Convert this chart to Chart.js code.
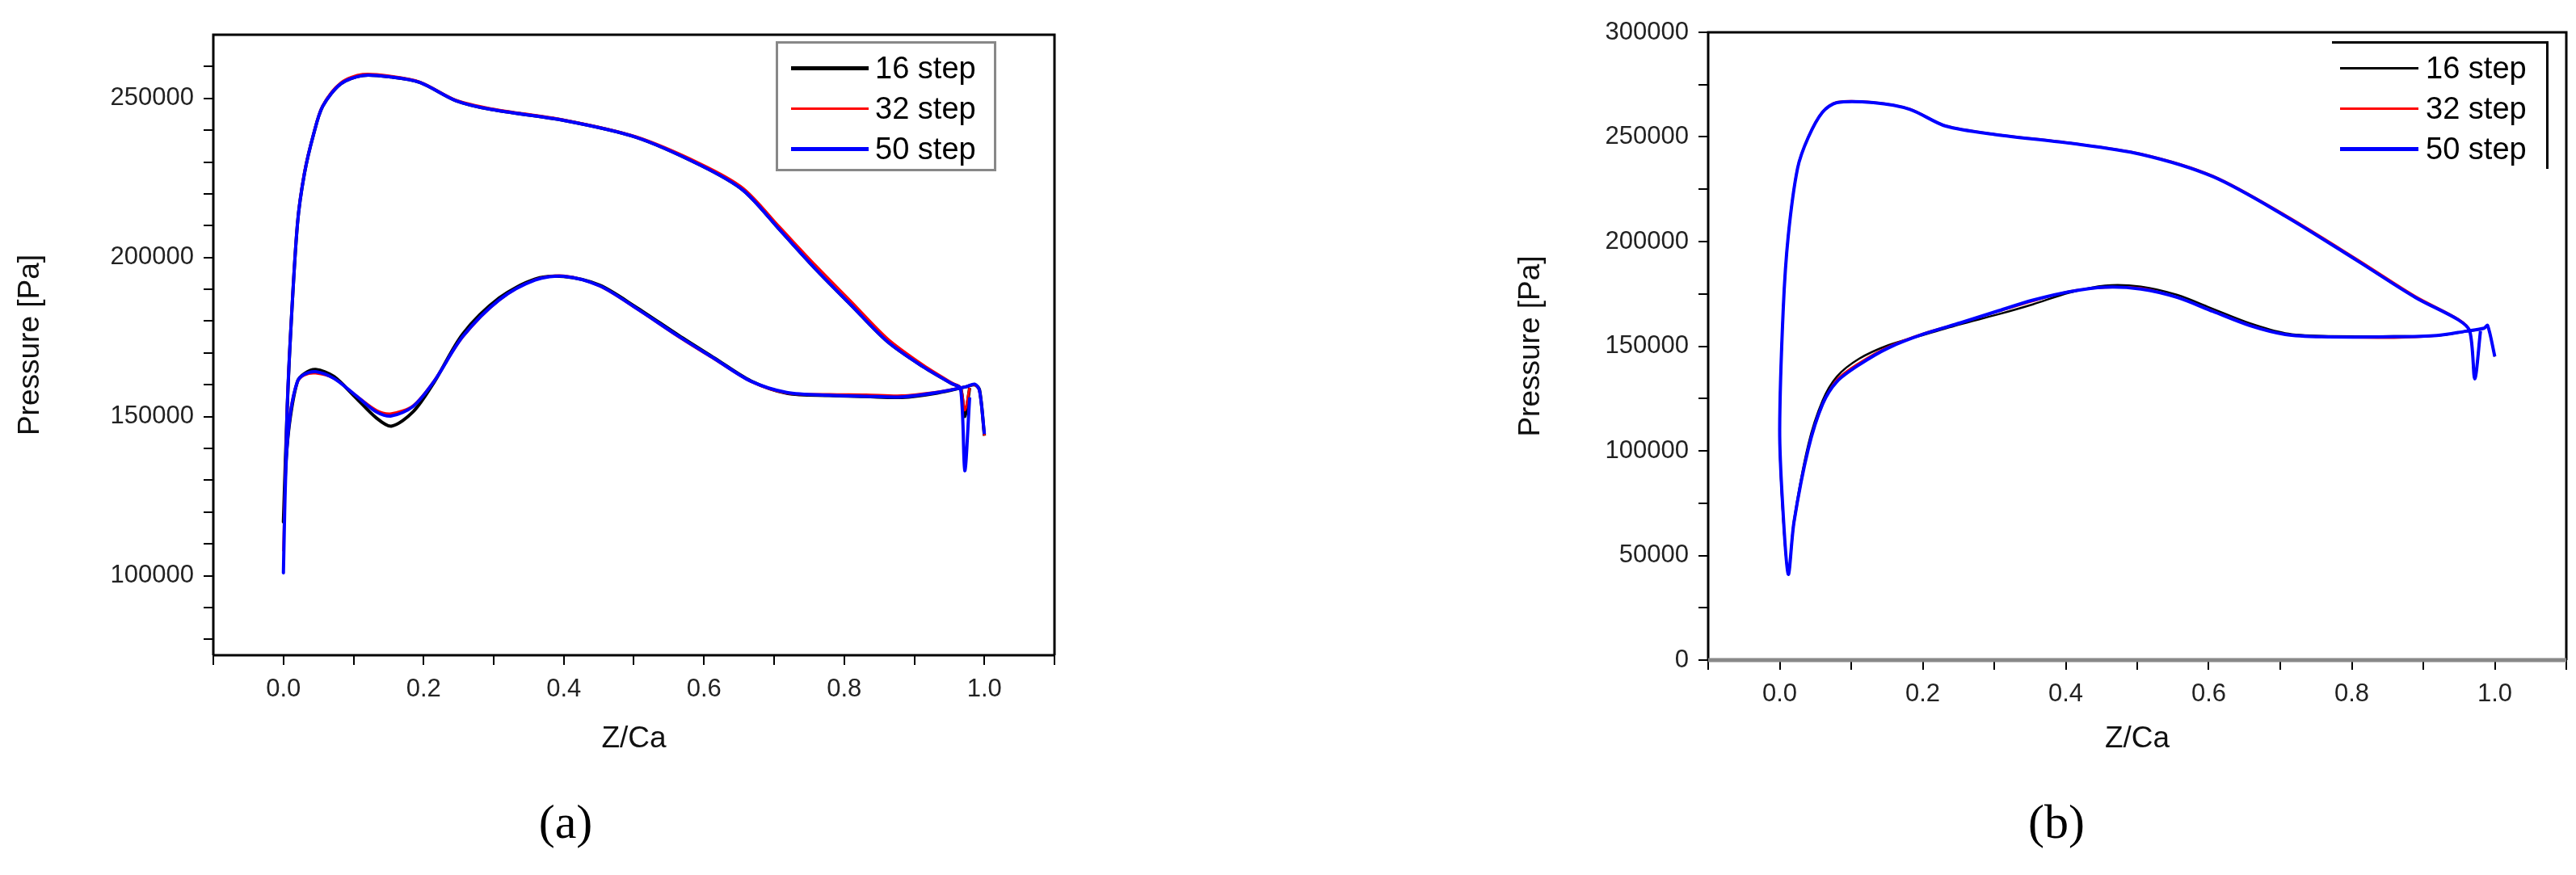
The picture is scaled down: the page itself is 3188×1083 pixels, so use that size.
<!DOCTYPE html>
<html>
<head>
<meta charset="utf-8">
<script src="https://cdn.jsdelivr.net/npm/chart.js@4.4.0/dist/chart.umd.min.js"></script>
<style>
  body { margin: 0; background: #fff; width: 3188px; height: 1083px; position: relative; overflow: hidden; font-family: "Liberation Sans", Arial, sans-serif; }
  .wrap { position: absolute; top: 0; }
  .panel-label { position: absolute; font-family: "Liberation Serif", serif; font-size: 60px; transform: translateX(-50%); }
  .legend { position: absolute; font-size: 38px; color: #000; }
  .legend .row { position: absolute; height: 44px; line-height: 44px; white-space: nowrap; }
  .legend .sw { position: absolute; top: 22px; }
  .legend .tx { position: absolute; }
</style>
</head>
<body>
<div class="wrap" style="left:0;width:1320px;height:945px"><canvas id="ca"></canvas></div>
<div class="wrap" style="left:1800px;width:1388px;height:945px"><canvas id="cb"></canvas></div>
<div class="panel-label" style="left:700px;top:983px">(a)</div>
<div class="panel-label" style="left:2545px;top:983px">(b)</div>
<div id="legA" class="legend" style="left:960px;top:51px;width:267px;height:155px;border:3px solid #888;"></div>
<div id="legB" class="legend" style="left:2886px;top:51px;width:265px;height:155px;border-top:3px solid #000;border-right:3px solid #000;"></div>
<script>
const seriesNames = ['16 step', '32 step', '50 step'];
const seriesColors = ['#000000', '#ff0000', '#0000ff'];

// panel (a): closed loop, end -> lower branch back to x=0 -> upper branch
const xA = [1.0, 0.993, 0.986, 0.974, 0.933, 0.882, 0.831, 0.779, 0.718, 0.667, 0.615, 0.564, 0.503, 0.451, 0.4, 0.359, 0.308, 0.256, 0.215, 0.185, 0.154, 0.133, 0.103, 0.072, 0.046, 0.03, 0.02, 0.01, 0.004, 0.0,
  0.005, 0.01, 0.02, 0.03, 0.043, 0.056, 0.082, 0.113, 0.154, 0.195, 0.246, 0.297, 0.4, 0.503, 0.595, 0.656, 0.708, 0.759, 0.81, 0.862, 0.913, 0.954, 0.966, 0.972, 0.979];
const a16 = [144000, 158500, 160000, 159400, 157400, 156000, 156300, 156600, 157300, 161200, 168400, 175500, 184400, 191300, 194000, 193200, 187300, 176000, 160800, 151500, 147000, 149500, 156000, 162600, 164800, 163500, 161000, 150000, 137000, 117000,
  150000, 175000, 210500, 226400, 238700, 247500, 254600, 257200, 256700, 255000, 249300, 246500, 243100, 237800, 229000, 221100, 208700, 196400, 185000, 173500, 165600, 160300, 159000, 150000, 159000];
const a32 = [144000, 158000, 160000, 159400, 157800, 156600, 156900, 157000, 157400, 161000, 168000, 175000, 184000, 191000, 194300, 193000, 186600, 175000, 161300, 153500, 151000, 152000, 156800, 162000, 163600, 163000, 160800, 152000, 139000, 108000,
  152000, 176000, 211000, 227000, 239000, 247800, 255000, 257600, 257000, 255200, 249500, 246800, 243300, 238000, 229500, 221800, 209600, 197600, 186200, 174500, 166200, 160600, 159200, 152000, 159000];
const a50 = [144500, 158200, 160200, 159400, 157600, 156200, 156400, 156700, 157600, 161100, 168200, 175200, 184100, 191100, 194100, 192900, 186700, 175200, 161100, 153200, 150200, 151400, 156700, 162000, 164100, 163300, 161000, 151000, 136000, 101000,
  150000, 175000, 210500, 226400, 238700, 247500, 254600, 257200, 256700, 255000, 249300, 246500, 243100, 237800, 229000, 221100, 208700, 196400, 185000, 173500, 165600, 160300, 158900, 133000, 156000];

// panel (b)
const xB = [1.0, 0.99, 0.985, 0.96, 0.919, 0.859, 0.758, 0.707, 0.657, 0.606, 0.556, 0.505, 0.455, 0.404, 0.354, 0.303, 0.253, 0.202, 0.152, 0.111, 0.08, 0.06, 0.04, 0.02, 0.012, 0.004, 0.0,
  0.005, 0.012, 0.025, 0.04, 0.06, 0.08, 0.131, 0.182, 0.232, 0.303, 0.404, 0.505, 0.606, 0.707, 0.808, 0.889, 0.949, 0.965, 0.972, 0.98];
const b16 = [145100, 159900, 158600, 157000, 155000, 154800, 154900, 156200, 161000, 167800, 174500, 178500, 179000, 175500, 170000, 165000, 160500, 155500, 150500, 144000, 135500, 124000, 103000, 67000, 42000, 72000, 110000,
  168000, 202800, 235000, 249800, 261900, 266400, 266400, 263200, 255200, 251100, 247100, 241700, 231000, 212200, 190800, 173300, 162600, 157200, 134400, 157200];
const b32 = [145100, 159900, 158600, 157200, 155000, 154000, 154400, 155600, 160200, 166800, 173300, 177800, 178000, 176200, 171500, 166300, 161200, 156200, 149800, 142000, 134000, 122000, 101000, 65000, 41000, 73000, 110000,
  168500, 203300, 235500, 250200, 262200, 266700, 266600, 263400, 255400, 251300, 247300, 242000, 231400, 212700, 191500, 173900, 163000, 157400, 134800, 157200];
const b50 = [145100, 159900, 158600, 157200, 155100, 154500, 154500, 155600, 159900, 166600, 173300, 177300, 178200, 176000, 172000, 166600, 161200, 155900, 149200, 141100, 133100, 122300, 100900, 66000, 41000, 75000, 110000,
  168000, 202800, 235000, 249800, 261900, 266400, 266400, 263200, 255200, 251100, 247100, 241700, 231000, 212200, 190800, 173300, 162600, 157200, 134400, 157200];

const xTicks = [-0.1, 0.0, 0.1, 0.2, 0.3, 0.4, 0.5, 0.6, 0.7, 0.8, 0.9, 1.0, 1.1];
const yTicksA = [80000, 90000, 100000, 110000, 120000, 130000, 140000, 150000, 160000, 170000, 180000, 190000, 200000, 210000, 220000, 230000, 240000, 250000, 260000];
const yTicksB = [0, 25000, 50000, 75000, 100000, 125000, 150000, 175000, 200000, 225000, 250000, 275000, 300000];

function pts(xs, ys) { return xs.map((x, i) => ({ x: x, y: ys[i] })); }

const framePlugin = {
  id: 'frame',
  afterDraw(chart, args, opts) {
    const a = chart.chartArea, c = chart.ctx;
    c.save();
    c.lineWidth = 3;
    c.strokeStyle = '#000';
    c.beginPath();
    c.moveTo(a.left, a.bottom); c.lineTo(a.left, a.top); c.lineTo(a.right, a.top); c.lineTo(a.right, a.bottom);
    c.stroke();
    c.strokeStyle = opts.bottomColor || '#000';
    c.lineWidth = opts.bottomWidth || 3;
    c.beginPath(); c.moveTo(a.left, a.bottom); c.lineTo(a.right, a.bottom); c.stroke();
    c.restore();
  }
};

function makeChart(id, xs, ys, widths, cfg) {
  const datasets = ys.map((y, i) => ({
    label: seriesNames[i],
    data: pts(xs, y),
    borderColor: seriesColors[i],
    borderWidth: widths[i],
    pointRadius: 0,
    showLine: true,
    tension: 0.3,
    fill: false,
    order: 2 - i   // blue drawn last, on top
  }));
  const tickFont = { family: 'Liberation Sans', size: 31 };
  new Chart(document.getElementById(id), {
    type: 'scatter',
    data: { datasets: datasets },
    plugins: [framePlugin],
    options: {
      responsive: true,
      maintainAspectRatio: false,
      animation: false,
      layout: { padding: { top: cfg.top, right: cfg.right, bottom: 0, left: 0 } },
      plugins: { legend: { display: false }, tooltip: { enabled: false }, frame: cfg.frame },
      scales: {
        x: {
          type: 'linear', min: -0.1, max: 1.1,
          afterBuildTicks: s => { s.ticks = xTicks.map(v => ({ value: v })); },
          afterFit: s => { s.height = cfg.xh; },
          grid: { drawOnChartArea: false, drawTicks: true, tickLength: 12, color: '#000', lineWidth: 2 },
          border: { display: false },
          ticks: { color: '#222', font: tickFont, padding: 12, maxRotation: 0, autoSkip: false,
            callback: v => (Math.round(v * 10) % 2 === 0 && v >= 0) ? v.toFixed(1) : '' },
          title: { display: true, text: 'Z/Ca', color: '#111', font: { family: 'Liberation Sans', size: 37 }, padding: { top: 0, bottom: 8 } }
        },
        y: {
          type: 'linear', min: cfg.ymin, max: cfg.ymax,
          afterBuildTicks: s => { s.ticks = cfg.yTicks.map(v => ({ value: v })); },
          afterFit: s => { s.width = cfg.yw; },
          grid: { drawOnChartArea: false, drawTicks: true, tickLength: 12, color: '#000', lineWidth: 2 },
          border: { display: false },
          ticks: { color: '#222', font: tickFont, padding: 12, autoSkip: false,
            callback: v => (v % 50000 === 0) ? String(v) : '' },
          title: { display: true, text: 'Pressure [Pa]', color: '#111', font: { family: 'Liberation Sans', size: 37 }, padding: { top: cfg.ytp, bottom: 0 } }
        }
      }
    }
  });
}

makeChart('ca', xA, [a16, a32, a50], [4, 3, 4],
  { top: 43, right: 15, xh: 134, yw: 264, ymin: 75000, ymax: 270000, yTicks: yTicksA, ytp: 16, frame: {} });
makeChart('cb', xB, [b16, b32, b50], [2.5, 2.5, 4],
  { top: 40, right: 7, xh: 128, yw: 314, ymin: 0, ymax: 300000, yTicks: yTicksB, ytp: 73, frame: { bottomColor: '#888', bottomWidth: 5 } });

function buildLegend(id, widths, swLeft, swW, txLeft) {
  const el = document.getElementById(id);
  seriesNames.forEach((n, i) => {
    const r = document.createElement('div');
    r.className = 'row';
    r.style.top = (8 + i * 50) + 'px';
    r.style.left = '0px';
    r.innerHTML = '<div class="sw" style="left:' + swLeft + 'px;width:' + swW + 'px;border-top:' + widths[i] + 'px solid ' + seriesColors[i] + ';margin-top:-' + (widths[i] / 2) + 'px"></div>' +
      '<div class="tx" style="left:' + txLeft + 'px">' + n + '</div>';
    el.appendChild(r);
  });
}
buildLegend('legA', [5, 3, 5], 16, 96, 120);
buildLegend('legB', [3, 3, 5], 10, 97, 116);
</script>
</body>
</html>
